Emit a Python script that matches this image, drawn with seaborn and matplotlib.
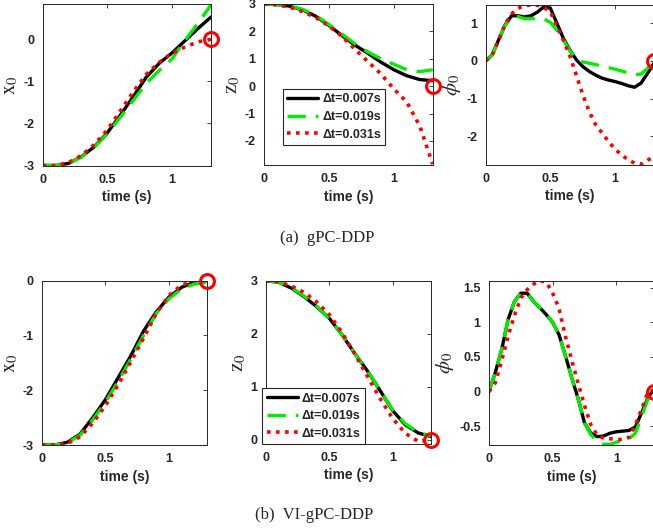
import numpy as np
import pandas as pd
import matplotlib
matplotlib.use("Agg")
import matplotlib.pyplot as plt
import seaborn as sns

# ---------------- data ----------------
t10 = [0.0, 0.1, 0.2, 0.3, 0.4, 0.5, 0.6, 0.7, 0.8, 0.9, 1.0, 1.1, 1.2, 1.3]
t05 = [0.0, 0.05, 0.1, 0.15, 0.2, 0.25, 0.3, 0.35, 0.4, 0.45, 0.5, 0.55, 0.6, 0.65,
       0.7, 0.75, 0.8, 0.85, 0.9, 0.95, 1.0, 1.05, 1.1, 1.15, 1.2, 1.25, 1.3]

labels = ["\u0394t=0.007s", "\u0394t=0.019s", "\u0394t=0.031s"]

# (a) gPC-DDP
a_x_black = [-3.0, -3.0, -2.95, -2.79, -2.55, -2.22, -1.8, -1.36, -0.9, -0.57, -0.32, -0.03, 0.26, 0.53]
a_x_green = [-3.0, -3.0, -2.95, -2.8, -2.56, -2.24, -1.85, -1.45, -1.05, -0.74, -0.46, -0.02, 0.38, 0.82]
a_x_red = [-3.0, -3.0, -2.93, -2.76, -2.5, -2.15, -1.7, -1.25, -0.83, -0.55, -0.33, -0.18, -0.06, 0.0]

a_z_black = [3.0, 2.98, 2.92, 2.78, 2.55, 2.22, 1.85, 1.5, 1.2, 0.88, 0.6, 0.38, 0.24, 0.2]
a_z_green = [3.0, 2.98, 2.93, 2.8, 2.58, 2.25, 1.9, 1.55, 1.25, 1.0, 0.8, 0.6, 0.53, 0.6]
a_z_red = [3.0, 2.97, 2.88, 2.72, 2.5, 2.2, 1.82, 1.35, 0.9, 0.45, -0.1, -0.58, -1.45, -2.85]

a_p_black = [0.0, 0.16, 0.56, 0.96, 1.2, 1.2, 1.17, 1.2, 1.3, 1.44, 1.4, 1.0, 0.6, 0.29,
             0.03, -0.15, -0.28, -0.38, -0.46, -0.51, -0.55, -0.6, -0.66, -0.7, -0.59, -0.33, -0.06]
a_p_green = [0.0, 0.15, 0.55, 0.95, 1.15, 1.18, 1.12, 1.12, 1.13, 1.12, 1.02, 0.82, 0.56, 0.27,
             0.06, -0.03, -0.06, -0.1, -0.14, -0.18, -0.22, -0.27, -0.32, -0.37, -0.35, -0.2, 0.0]
a_p_red = [0.0, 0.15, 0.55, 0.98, 1.25, 1.4, 1.47, 1.49, 1.48, 1.42, 1.3, 0.92, 0.55, 0.13,
           -0.38, -0.9, -1.35, -1.7, -1.92, -2.15, -2.35, -2.5, -2.63, -2.72, -2.75, -2.64, -2.55]

# (b) VI-gPC-DDP
b_x_black = [-3.0, -3.0, -2.95, -2.8, -2.5, -2.17, -1.77, -1.37, -0.92, -0.57, -0.3, -0.12, -0.03, 0.0]
b_x_green = [-3.0, -3.0, -2.96, -2.82, -2.54, -2.22, -1.84, -1.43, -1.0, -0.6, -0.33, -0.15, -0.06, -0.03]
b_x_red = [-3.0, -3.0, -2.97, -2.85, -2.6, -2.28, -1.9, -1.48, -1.05, -0.6, -0.27, -0.08, 0.0, 0.0]

b_z_black = [3.0, 2.97, 2.86, 2.7, 2.51, 2.29, 1.98, 1.63, 1.3, 0.93, 0.55, 0.28, 0.13, 0.06]
b_z_green = [3.0, 2.97, 2.87, 2.71, 2.52, 2.29, 1.98, 1.63, 1.3, 0.93, 0.56, 0.3, 0.14, 0.07]
b_z_red = [3.0, 2.98, 2.9, 2.78, 2.6, 2.36, 2.02, 1.62, 1.2, 0.78, 0.4, 0.12, -0.03, 0.0]

b_p_black = [0.0, 0.28, 0.61, 1.04, 1.3, 1.42, 1.42, 1.3, 1.21, 1.11, 1.0, 0.82, 0.52, 0.2,
             -0.1, -0.45, -0.6, -0.65, -0.64, -0.6, -0.58, -0.57, -0.56, -0.51, -0.3, -0.08, 0.04]
b_p_green = [0.0, 0.28, 0.61, 1.04, 1.3, 1.42, 1.42, 1.3, 1.21, 1.11, 1.0, 0.82, 0.52, 0.2,
             -0.1, -0.45, -0.62, -0.72, -0.76, -0.76, -0.73, -0.7, -0.68, -0.6, -0.35, -0.1, 0.02]
b_p_red = [0.0, 0.13, 0.45, 0.8, 1.1, 1.35, 1.47, 1.55, 1.6, 1.58, 1.42, 1.2, 0.8, 0.45,
           0.12, -0.2, -0.48, -0.63, -0.67, -0.68, -0.69, -0.69, -0.66, -0.48, -0.25, 0.0, 0.02]

# terminal target (red circle), same in every panel
target_t = [1.3]
target_v = [0.0]

panels = [
    (t10, [a_x_black, a_x_green, a_x_red], r"$\mathrm{x}_0$", (-3, 0.84), [-3, -2, -1, 0], ["-3", "-2", "-1", "0"], None),
    (t10, [a_z_black, a_z_green, a_z_red], r"$\mathrm{z}_0$", (-2.88, 3.0), [-2, -1, 0, 1, 2, 3], ["-2", "-1", "0", "1", "2", "3"], (0.415, 0.298)),
    (t05, [a_p_black, a_p_green, a_p_red], r"$\phi_0$", (-2.76, 1.5), [-2, -1, 0, 1], ["-2", "-1", "0", "1"], None),
    (t10, [b_x_black, b_x_green, b_x_red], r"$\mathrm{x}_0$", (-3, 0.0), [-3, -2, -1, 0], ["-3", "-2", "-1", "0"], None),
    (t10, [b_z_black, b_z_green, b_z_red], r"$\mathrm{z}_0$", (-0.08, 3.0), [0, 1, 2, 3], ["0", "1", "2", "3"], (0.29, 0.17)),
    (t05, [b_p_black, b_p_green, b_p_red], r"$\phi_0$", (-0.77, 1.6), [-0.5, 0, 0.5, 1, 1.5], ["-0.5", "0", "0.5", "1", "1.5"], None),
]

xticks = [0, 0.5, 1]
xticklabels = ["0", "0.5", "1"]

# ---------------- style ----------------
sns.set_style("white")
plt.rcParams["font.family"] = ["Liberation Sans", "DejaVu Sans"]
plt.rcParams["mathtext.fontset"] = "stix"
plt.rcParams["xtick.direction"] = "in"
plt.rcParams["ytick.direction"] = "in"

fig = plt.figure(figsize=(6.53, 5.29), dpi=100)

W, H = 653.0, 529.0
boxes = [
    (42.7, 4.0, 211.0, 165.5),
    (264.0, 4.0, 432.7, 165.0),
    (485.7, 4.5, 654.0, 164.7),
    (42.0, 280.7, 207.0, 445.0),
    (266.0, 280.7, 430.7, 444.0),
    (489.0, 280.7, 654.5, 445.0),
]

colors = ["black", "#00ee00", "#ff0000"]
spine_col = "#262626"

for (x0, y0, x1, y1), (tt, series, ylab, ylim, yt, ytl, leg) in zip(boxes, panels):
    ax = fig.add_axes([x0 / W, 1 - y1 / H, (x1 - x0) / W, (y1 - y0) / H])
    frames = []
    for s, lab in zip(series, labels):
        frames.append(pd.DataFrame({"t": tt, "v": s, "case": lab}))
    df = pd.concat(frames, ignore_index=True)
    for i, lab in enumerate(labels):
        sub = df[df["case"] == lab]
        if i == 0:
            sns.lineplot(data=sub, x="t", y="v", ax=ax, color=colors[0], lw=2.4,
                         label=lab, sort=False, estimator=None)
        elif i == 1:
            sns.lineplot(data=sub, x="t", y="v", ax=ax, color=colors[1], lw=2.4,
                         label=lab, sort=False, estimator=None)
            ax.lines[-1].set_dashes([5.5, 3.0])
        else:
            sns.lineplot(data=sub, x="t", y="v", ax=ax, color=colors[2], lw=2.6,
                         label=lab, sort=False, estimator=None)
            ax.lines[-1].set_dashes([1.0, 1.5])
    ax.plot(target_t, target_v, marker="o", ms=10, mfc="none", mec="#ff0000", mew=2.2,
            ls="none", clip_on=False, zorder=5)
    ax.set_xlim(0, 1.3)
    ax.set_ylim(*ylim)
    ax.set_xticks(xticks)
    ax.set_xticklabels(xticklabels, fontsize=9, fontweight="bold", color="#262626")
    ax.set_yticks(yt)
    ax.set_yticklabels(ytl, fontsize=9, fontweight="bold", color="#262626")
    ax.tick_params(axis="both", which="both", top=True, right=True, length=3,
                   width=0.6, color=spine_col)
    ax.tick_params(axis="y", pad=6)
    ax.tick_params(axis="x", pad=6)
    for sp in ax.spines.values():
        sp.set_color(spine_col)
        sp.set_linewidth(0.7)
    ax.set_xlabel("time (s)", fontsize=10, fontweight="bold", color="#262626", labelpad=3)
    ax.set_ylabel(ylab, fontsize=15, color="#262626", labelpad=2)
    if leg is not None:
        lg = ax.legend(loc="center", bbox_to_anchor=leg, frameon=True, fancybox=False,
                       edgecolor="#262626", framealpha=1, handlelength=2.5,
                       handletextpad=0.3, borderpad=0.35, labelspacing=0.45,
                       borderaxespad=0.0,
                       prop={"weight": "bold", "size": 9})
        lg.get_frame().set_linewidth(0.8)
    else:
        l = ax.get_legend()
        if l is not None:
            l.remove()

fig.text(327 / W, 1 - 238 / H, "(a)  gPC-DDP", ha="center", va="center",
         fontsize=12, family=["Liberation Serif", "DejaVu Serif"])
fig.text(314 / W, 1 - 515 / H, "(b)  VI-gPC-DDP", ha="center", va="center",
         fontsize=12, family=["Liberation Serif", "DejaVu Serif"])

fig.savefig("out.png", dpi=100)
